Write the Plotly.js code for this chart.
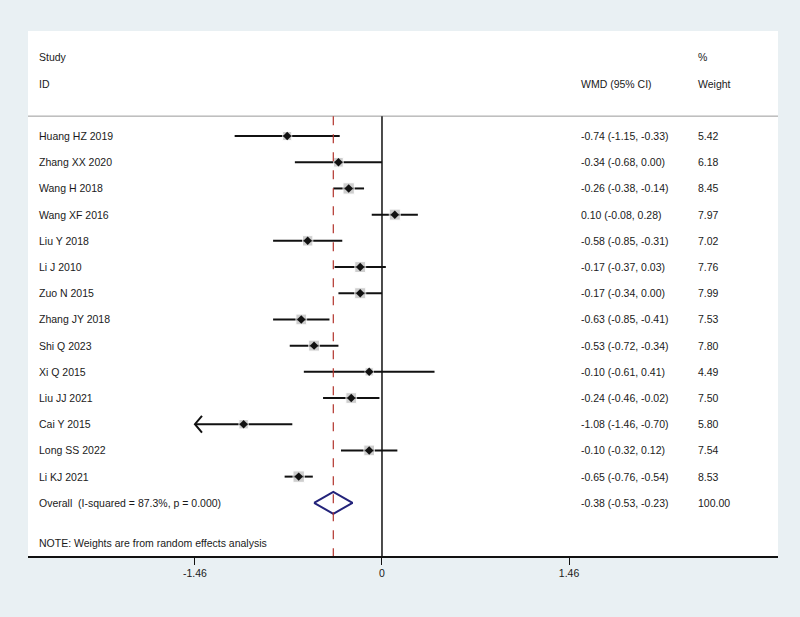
<!DOCTYPE html>
<html>
<head>
<meta charset="utf-8">
<script src="https://cdn.plot.ly/plotly-3.0.1.min.js"></script>
<style>html,body{margin:0;padding:0;background:#e9f0f3;}#chart{width:800px;height:617px;}</style>
</head>
<body>
<div id="chart"></div>
<script>
const studies = ["Huang HZ 2019","Zhang XX 2020","Wang H 2018","Wang XF 2016","Liu Y 2018","Li J 2010","Zuo N 2015","Zhang JY 2018","Shi Q 2023","Xi Q 2015","Liu JJ 2021","Cai Y 2015","Long SS 2022","Li KJ 2021"];
const wmd   = [-0.74,-0.34,-0.26,0.10,-0.58,-0.17,-0.17,-0.63,-0.53,-0.10,-0.24,-1.08,-0.10,-0.65];
const lower = [-1.15,-0.68,-0.38,-0.08,-0.85,-0.37,-0.34,-0.85,-0.72,-0.61,-0.46,-1.46,-0.32,-0.76];
const upper = [-0.33,0.00,-0.14,0.28,-0.31,0.03,0.00,-0.41,-0.34,0.41,-0.02,-0.70,0.12,-0.54];
const weights = [5.42,6.18,8.45,7.97,7.02,7.76,7.99,7.53,7.80,4.49,7.50,5.80,7.54,8.53];
const overallLabel = "Overall  (I-squared = 87.3%, p = 0.000)";
const overall = {est: -0.38, lo: -0.53, hi: -0.23, weight: 100.00};
const tickVals = [-1.46, 0, 1.46];
const tickText = ["-1.46", "0", "1.46"];
const headers = {study: "Study", id: "ID", ci: "WMD (95% CI)", pct: "%", weight: "Weight"};
const note = "NOTE: Weights are from random effects analysis";

const xMin = -1.46; // display clip for CIs
const rows = studies.map((_, i) => i + 1);
const overallRow = studies.length + 1;
const noteRow = overallRow + 1.53;
const fmt = v => v.toFixed(2);

const traces = [];
// CI lines
const ciX = [], ciY = [];
studies.forEach((s, i) => {
  ciX.push(Math.max(lower[i], xMin), upper[i], null);
  ciY.push(rows[i], rows[i], null);
});
traces.push({x: ciX, y: ciY, mode: 'lines', line: {color: '#111', width: 2}, hoverinfo: 'skip'});
// arrows for clipped CIs
const arX = [], arY = [];
studies.forEach((s, i) => {
  if (lower[i] <= xMin) {
    arX.push(xMin + 0.055, xMin, xMin + 0.055, null);
    arY.push(rows[i] - 0.32, rows[i], rows[i] + 0.32, null);
  }
});
traces.push({x: arX, y: arY, mode: 'lines', line: {color: '#111', width: 2}, hoverinfo: 'skip'});
// weight squares
traces.push({x: wmd, y: rows, mode: 'markers', marker: {symbol: 'square', color: '#bababa', size: weights.map(w => Math.sqrt(w) * 3.9)}, hoverinfo: 'skip'});
// point estimates
traces.push({x: wmd, y: rows, mode: 'markers', marker: {symbol: 'diamond', color: '#111', size: 6.5}, hoverinfo: 'skip'});
// overall diamond
const h = 0.42;
traces.push({x: [overall.lo, overall.est, overall.hi, overall.est, overall.lo],
  y: [overallRow, overallRow - h, overallRow, overallRow + h, overallRow],
  mode: 'lines', line: {color: '#23237a', width: 2}, hoverinfo: 'skip'});

const font = {family: 'Liberation Sans, Arial, Helvetica, sans-serif', size: 10.5, color: '#1a1a1a'};
const annotations = [];
const xStudy = 0.012, xCI = 0.734, xW = 0.89;
function addText(txt, xp, y) {
  annotations.push({text: txt, xref: 'paper', yref: 'y', x: xp, y: y, xanchor: 'left', yanchor: 'middle', showarrow: false, font: font});
}
addText(headers.study, xStudy, -2);
addText(headers.id, xStudy, -1);
addText(headers.ci, xCI, -1);
addText(headers.pct, xW, -2);
addText(headers.weight, xW, -1);
studies.forEach((s, i) => {
  addText(s, xStudy, rows[i]);
  addText(fmt(wmd[i]) + " (" + fmt(lower[i]) + ", " + fmt(upper[i]) + ")", xCI, rows[i]);
  addText(fmt(weights[i]), xW, rows[i]);
});
addText(overallLabel, xStudy, overallRow);
addText(fmt(overall.est) + " (" + fmt(overall.lo) + ", " + fmt(overall.hi) + ")", xCI, overallRow);
addText(fmt(overall.weight), xW, overallRow);
addText(note, xStudy, noteRow);

const yBottom = 17.03, yTop = -3.01, yHeaderLine = 0.24;
const shapes = [
  {type: 'line', xref: 'paper', yref: 'y', x0: 0, x1: 1, y0: yHeaderLine, y1: yHeaderLine, line: {color: '#9a9a9a', width: 1}},
  {type: 'line', xref: 'x', yref: 'y', x0: 0, x1: 0, y0: yHeaderLine, y1: yBottom, line: {color: '#111', width: 1.5}},
  {type: 'line', xref: 'x', yref: 'y', x0: overall.est, x1: overall.est, y0: yHeaderLine, y1: yBottom, line: {color: '#b2342c', width: 1.2, dash: 'dash'}}
];

const layout = {
  width: 800, height: 617,
  paper_bgcolor: '#e9f0f3', plot_bgcolor: '#ffffff',
  margin: {l: 28, r: 22, t: 31, b: 61},
  showlegend: false,
  xaxis: {range: [-2.763, 3.091], tickvals: tickVals, ticktext: tickText, ticks: 'outside', ticklen: 7, tickwidth: 1, tickcolor: '#111',
    showline: true, linecolor: '#111', linewidth: 1.5, showgrid: false, zeroline: false, fixedrange: true,
    tickfont: {family: font.family, size: 10.5, color: '#1a1a1a'}},
  yaxis: {range: [yBottom, yTop], visible: false, showgrid: false, zeroline: false, fixedrange: true},
  annotations: annotations,
  shapes: shapes
};
Plotly.newPlot('chart', traces, layout, {displayModeBar: false, staticPlot: true});
</script>
</body>
</html>
